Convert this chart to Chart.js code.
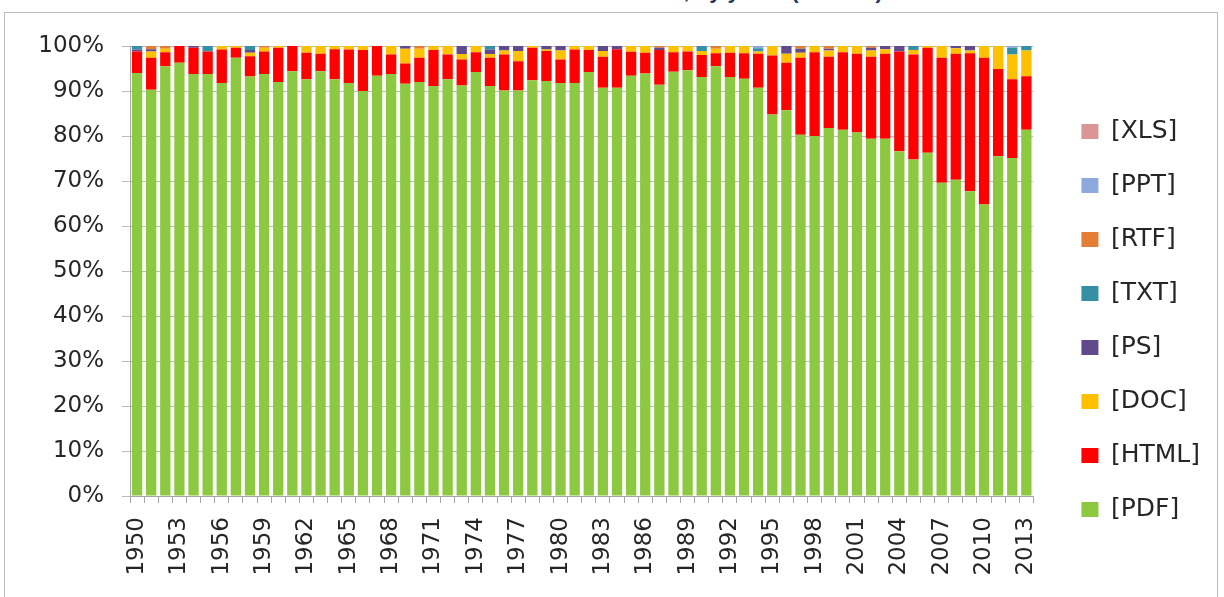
<!DOCTYPE html>
<html>
<head>
<meta charset="utf-8">
<script src="https://cdn.jsdelivr.net/npm/chart.js@4.4.1/dist/chart.umd.min.js"></script>
<style>
  html, body { margin: 0; padding: 0; background: #fff; overflow: hidden; }
  #wrap { position: relative; width: 1224px; height: 597px; }
  #title {
    position: absolute; left: 0; top: -20px; width: 1224px; text-align: center;
    font: bold 22px "Liberation Sans", Arial, sans-serif; line-height: 22px; color: #1f3864;
  }
  #frame {
    position: absolute; left: 4px; top: 12px; width: 1214px; height: 600px;
    border: 1px solid #bdbdbd; box-sizing: border-box;
  }
  #box { position: absolute; left: 0; top: 0; width: 1224px; height: 597px; }
</style>
</head>
<body>
<div id="wrap">
  <div id="title">Formats of accessed documents, by years (% of all)</div>
  <div id="frame"></div>
  <div id="box"><canvas id="formatsChart"></canvas></div>
</div>
<script>
const years = [];
for (let y = 1950; y <= 2013; y++) years.push(String(y));

const pdf = [94.0, 90.3, 95.5, 96.3, 93.8, 93.8, 91.8, 97.4, 93.2, 93.8,
  92.0, 94.4, 92.6, 94.4, 92.6, 91.8, 90.0, 93.4, 93.8, 91.6,
  92.0, 91.1, 92.6, 91.2, 94.2, 91.1, 90.1, 90.1, 92.4, 92.2,
  91.8, 91.8, 94.2, 90.7, 90.7, 93.4, 93.9, 91.4, 94.3, 94.6,
  93.1, 95.5, 93.1, 92.7, 90.7, 84.8, 85.7, 80.3, 80.0, 81.8,
  81.4, 80.8, 79.4, 79.4, 76.6, 74.8, 76.3, 69.6, 70.3, 67.7,
  64.8, 75.5, 75.1, 81.4];
const html = [4.8, 7.1, 3.1, 3.7, 5.8, 5.0, 7.4, 2.2, 4.5, 5.0,
  7.6, 5.6, 5.9, 3.9, 6.7, 7.4, 9.1, 6.6, 4.3, 4.5,
  5.4, 8.0, 5.5, 5.8, 4.4, 6.3, 8.0, 6.5, 7.2, 6.7,
  5.2, 7.4, 4.9, 6.9, 8.6, 5.3, 4.6, 7.7, 4.3, 4.2,
  4.9, 2.9, 5.4, 5.7, 7.6, 13.1, 10.6, 17.1, 18.6, 15.8,
  17.2, 17.5, 18.2, 18.9, 22.2, 23.3, 23.3, 27.8, 28.0, 30.7,
  32.6, 19.4, 17.5, 11.9];
const doc = [0, 1.4, 0.8, 0, 0, 0, 0.8, 0.4, 0.8, 0.8,
  0.4, 0, 1.5, 1.7, 0.7, 0.8, 0.9, 0, 1.9, 3.3,
  2.0, 0.9, 1.9, 1.2, 1.4, 0.8, 0.9, 2.3, 0.4, 0.3,
  2.0, 0.8, 0.9, 1.3, 0, 1.3, 1.5, 0, 1.4, 1.2,
  0.9, 1.0, 1.5, 1.6, 0.5, 2.1, 2.0, 1.1, 1.4, 1.4,
  1.4, 1.7, 1.4, 1.0, 0, 1.0, 0.4, 2.6, 1.2, 0.6,
  2.6, 5.1, 5.5, 5.7];
const ps = [0.4, 0.5, 0, 0, 0.4, 0, 0, 0, 0.6, 0,
  0, 0, 0, 0, 0, 0, 0, 0, 0, 0.6,
  0, 0, 0, 1.8, 0, 1.0, 1.0, 1.1, 0, 0.8,
  1.0, 0, 0, 1.1, 0.7, 0, 0, 0.5, 0, 0,
  0, 0, 0, 0, 0, 0, 1.7, 0.9, 0, 0.4,
  0, 0, 0.6, 0.7, 1.2, 0, 0, 0, 0.5, 1.0,
  0, 0, 0, 0];
const txt = [0.8, 0, 0, 0, 0, 1.2, 0, 0, 0.9, 0,
  0, 0, 0, 0, 0, 0, 0, 0, 0, 0,
  0, 0, 0, 0, 0, 0.8, 0, 0, 0, 0,
  0, 0, 0, 0, 0, 0, 0, 0, 0, 0,
  1.1, 0, 0, 0, 0.7, 0, 0, 0, 0, 0,
  0, 0, 0, 0, 0, 0.9, 0, 0, 0, 0,
  0, 0, 1.5, 1.0];
const rtf = [0, 0.7, 0.6, 0, 0, 0, 0, 0, 0, 0.4,
  0, 0, 0, 0, 0, 0, 0, 0, 0, 0,
  0.6, 0, 0, 0, 0, 0, 0, 0, 0, 0,
  0, 0, 0, 0, 0, 0, 0, 0.4, 0, 0,
  0, 0.6, 0, 0, 0, 0, 0, 0.6, 0, 0.6,
  0, 0, 0.4, 0, 0, 0, 0, 0, 0, 0,
  0, 0, 0, 0];
const ppt = [0, 0, 0, 0, 0, 0, 0, 0, 0, 0,
  0, 0, 0, 0, 0, 0, 0, 0, 0, 0,
  0, 0, 0, 0, 0, 0, 0, 0, 0, 0,
  0, 0, 0, 0, 0, 0, 0, 0, 0, 0,
  0, 0, 0, 0, 0.5, 0, 0, 0, 0, 0,
  0, 0, 0, 0, 0, 0, 0, 0, 0, 0,
  0, 0, 0.4, 0];
const xls = new Array(64).fill(0);

const textColor = '#262626';
const tickFont = { family: 'DejaVu Sans', size: 23 };

// nudge the legend into the spot the original one sits in
const legendShift = {
  id: 'legendShift',
  afterLayout(chart) {
    const lg = chart.legend;
    lg.left += 19; lg.right += 19;
    lg.top += 44; lg.bottom += 44;
  }
};

function ds(label, data, color) {
  return { label, data, backgroundColor: color, borderWidth: 0, barPercentage: 0.73, categoryPercentage: 1 };
}

new Chart(document.getElementById('formatsChart'), {
  type: 'bar',
  data: {
    labels: years,
    datasets: [
      ds('[PDF]', pdf, '#8cc840'),
      ds('[HTML]', html, '#ff0000'),
      ds('[DOC]', doc, '#ffc000'),
      ds('[PS]', ps, '#604a8b'),
      ds('[TXT]', txt, '#3590a6'),
      ds('[RTF]', rtf, '#e47e36'),
      ds('[PPT]', ppt, '#8eaadc'),
      ds('[XLS]', xls, '#d99694')
    ]
  },
  options: {
    responsive: true,
    maintainAspectRatio: false,
    animation: false,
    layout: { padding: { top: 46, right: 33, bottom: 0, left: 0 } },
    plugins: {
      legend: {
        position: 'right',
        align: 'start',
        reverse: true,
        labels: { boxWidth: 17, boxHeight: 15, padding: 29, color: textColor, font: { family: 'DejaVu Sans', size: 25 } }
      },
      tooltip: { enabled: false }
    },
    scales: {
      x: {
        stacked: true,
        grid: { display: true, drawOnChartArea: false, offset: true, tickLength: 7, color: '#a6a6a6' },
        border: { color: '#a6a6a6' },
        ticks: {
          autoSkip: false, minRotation: 90, maxRotation: 90, padding: 14,
          color: textColor, font: tickFont,
          callback(value, index) { return index % 3 === 0 ? this.getLabelForValue(value) : ''; }
        },
        afterFit(axis) { axis.height = 101; }
      },
      y: {
        stacked: true, min: 0, max: 100,
        grid: { color: '#bcbcbc', tickLength: 8 },
        border: { color: '#a6a6a6' },
        ticks: { stepSize: 10, padding: 18, color: textColor, font: tickFont, callback: v => v + '%' },
        afterFit(axis) { axis.width = 130; }
      }
    }
  },
  plugins: [legendShift]
});
</script>
</body>
</html>
